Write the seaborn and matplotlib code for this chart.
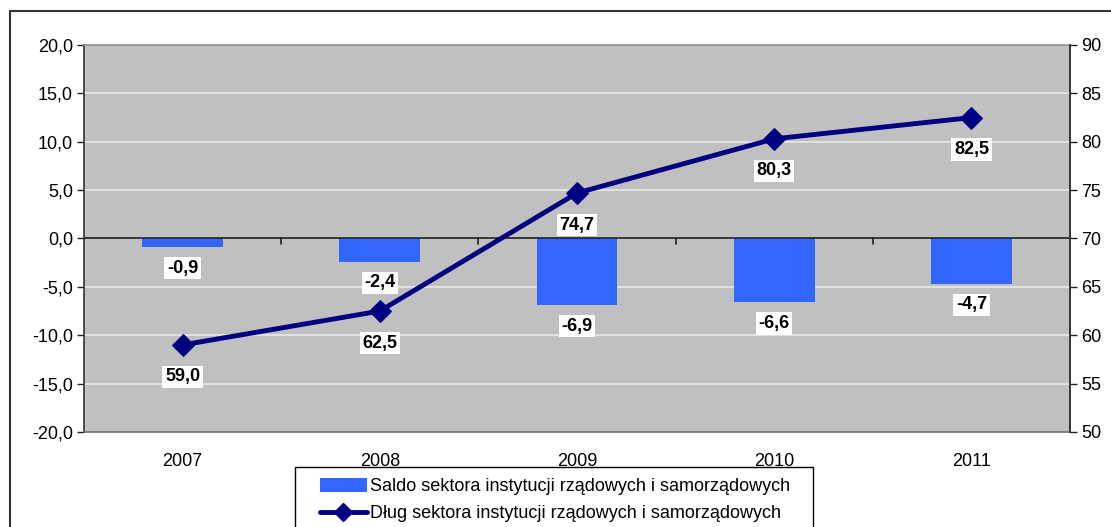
import matplotlib
matplotlib.use("Agg")
import matplotlib.pyplot as plt
import matplotlib.ticker as mticker
from matplotlib.patches import Rectangle, Patch
from matplotlib.lines import Line2D
import numpy as np
import pandas as pd
import seaborn as sns

years = ["2007", "2008", "2009", "2010", "2011"]
saldo = [-0.9, -2.4, -6.9, -6.6, -4.7]
dlug = [59.0, 62.5, 74.7, 80.3, 82.5]
label_saldo = "Saldo sektora instytucji rządowych i samorządowych"
label_dlug = "Dług sektora instytucji rządowych i samorządowych"

bar_color = "#3366FF"
line_color = "#000080"

sns.set_theme(style="white")
plt.rcParams["font.family"] = ["Liberation Sans", "DejaVu Sans"]
plt.rcParams["text.color"] = "black"

W, H = 1111, 527
FS = 13
fig = plt.figure(figsize=(W / 100, H / 100), dpi=100)
ax = fig.add_axes([84 / W, 1 - 432 / H, (1070 - 84) / W, (432 - 45) / H])
ax.set_facecolor("#C0C0C0")

df = pd.DataFrame({"rok": years, "saldo": saldo, "dlug": dlug})
x = np.arange(len(years))

sns.barplot(data=df, x="rok", y="saldo", color=bar_color, width=0.41,
            saturation=1, linewidth=0, ax=ax, zorder=3)
ax.set_xlim(-0.5, len(years) - 0.5)
ax.set_ylim(-20, 20)
ax.set_yticks(np.arange(-20, 21, 5))
ax.yaxis.set_major_formatter(mticker.FuncFormatter(lambda v, p: f"{v:.1f}".replace(".", ",")))
for v in np.arange(-15, 16, 5):
    if v != 0:
        ax.axhline(v, color="#E8E8E8", lw=1.2, zorder=1)
ax.axhline(0, color="#222222", lw=1.2, zorder=4)
# small ticks on the category axis at the zero line
for b in x[:-1] + 0.5:
    ax.plot([b, b], [0, -0.6], color="#222222", lw=1.2, zorder=4)

ax.set_xlabel("")
ax.set_ylabel("")
ax.tick_params(axis="x", length=0, pad=15, labelsize=FS, labelcolor="black")
ax.tick_params(axis="y", direction="out", length=5, width=1, color="#222222",
               left=True, labelsize=FS, labelcolor="black", pad=3)
ax.spines["left"].set_color("#333333")
ax.spines["top"].set_color("#909090")
ax.spines["bottom"].set_color("#707070")
ax.spines["right"].set_color("#333333")
for s in ax.spines.values():
    s.set_linewidth(1.2)

ax2 = ax.twinx()
sns.lineplot(x=x, y=dlug, ax=ax2, color=line_color, lw=3.5, marker="D",
             markersize=11, markeredgecolor=line_color, zorder=5)
ax2.set_ylim(50, 90)
ax2.set_yticks(np.arange(50, 91, 5))
ax2.tick_params(axis="y", direction="out", length=5, width=1, color="#222222",
                right=True, labelsize=FS, labelcolor="black", pad=3)
for s in ax2.spines.values():
    s.set_visible(False)
ax2.spines["right"].set_visible(True)
ax2.spines["right"].set_color("#333333")
ax2.spines["right"].set_linewidth(1.2)
ax2.grid(False)

box = dict(facecolor="white", edgecolor="none", pad=2)
for i, v in enumerate(saldo):
    ax.annotate(f"{v:.1f}".replace(".", ","), (i, v), xytext=(0, -21),
                textcoords="offset pixels", ha="center", va="center",
                fontsize=FS, fontweight="bold", color="black", bbox=box, zorder=6)
for i, v in enumerate(dlug):
    ax2.annotate(f"{v:.1f}".replace(".", ","), (i, v), xytext=(0, -32),
                 textcoords="offset pixels", ha="center", va="center",
                 fontsize=FS, fontweight="bold", color="black", bbox=box, zorder=6)

handles = [Patch(facecolor=bar_color, edgecolor="none"),
           Line2D([], [], color=line_color, lw=3.5, marker="D", markersize=9)]
leg = fig.legend(handles, [label_saldo, label_dlug], loc="upper left",
                 bbox_to_anchor=(320 / W, 1 - 478 / H), frameon=False,
                 fontsize=FS, handlelength=2.6, handleheight=0.8,
                 handletextpad=0.17, borderpad=0, labelspacing=0.55,
                 borderaxespad=0, labelcolor="black")

# legend frame, cut by the bottom of the picture
fig.patches.append(Rectangle((295 / W, -0.1), (813 - 295) / W, 1 - 467 / H + 0.1,
                             transform=fig.transFigure, fill=False,
                             edgecolor="black", lw=1))
# outer chart border
fig.patches.append(Rectangle((10 / W, -0.1), 1.2, 1 - 11 / H + 0.1,
                             transform=fig.transFigure, fill=False,
                             edgecolor="#333333", lw=1.5))

fig.savefig("out.png", dpi=100)
